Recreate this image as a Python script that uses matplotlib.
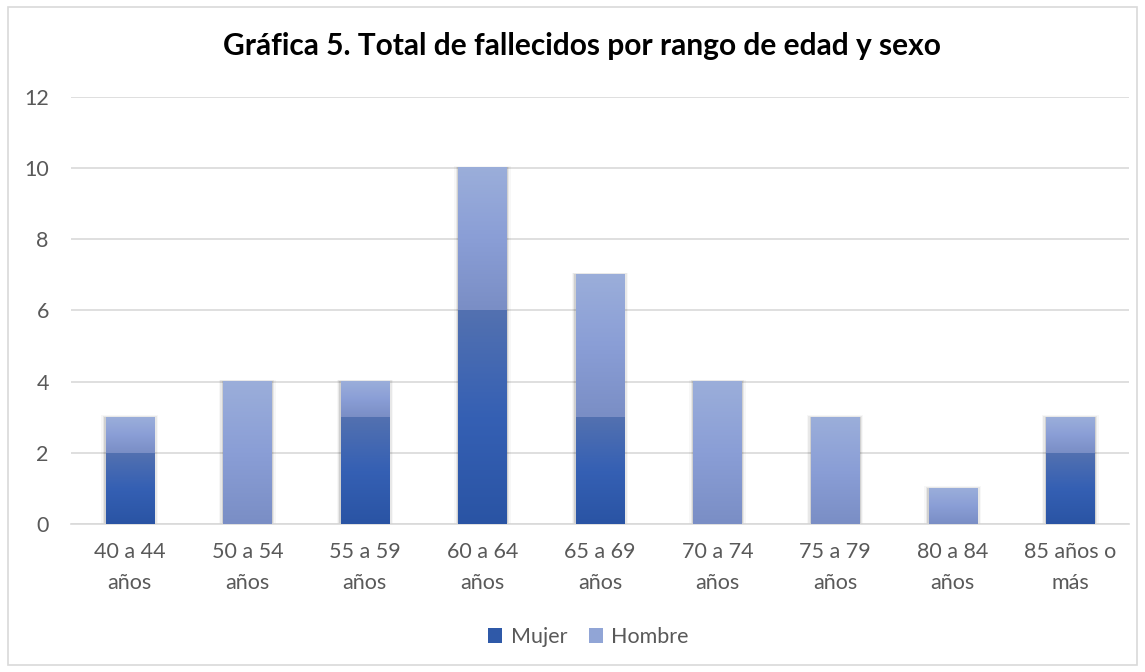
import numpy as np
import matplotlib
matplotlib.use('Agg')
import matplotlib.pyplot as plt
from matplotlib.colors import LinearSegmentedColormap
from matplotlib.patches import Patch, Rectangle

categorias = ['40 a 44\naños', '50 a 54\naños', '55 a 59\naños', '60 a 64\naños',
              '65 a 69\naños', '70 a 74\naños', '75 a 79\naños', '80 a 84\naños',
              '85 años o\nmás']
mujer = [2, 0, 3, 6, 3, 0, 0, 0, 2]
hombre = [1, 4, 1, 4, 4, 4, 3, 1, 1]

plt.rcParams['font.family'] = ['Lato', 'DejaVu Sans']

fig = plt.figure(figsize=(11.45, 6.72), dpi=100)
ax = fig.add_axes([0.062, 0.22, 0.924, 0.636])

# marco gris alrededor de la figura
fig.patches.append(Rectangle((0.007, 0.01), 0.986, 0.98, transform=fig.transFigure,
                             fill=False, edgecolor='#D9D9D9', lw=1.2))

cm_mujer = LinearSegmentedColormap.from_list('m', ['#2A54A4', '#3560B4', '#5371B0'])
cm_hombre = LinearSegmentedColormap.from_list('h', ['#7A8EC5', '#8A9ED6', '#9BAEDA'])
grad = np.linspace(0, 1, 256).reshape(-1, 1)

x = np.arange(len(categorias))
w = 0.41
b1 = ax.bar(x, mujer, w, color='none', zorder=3)
b2 = ax.bar(x, hombre, w, bottom=mujer, color='none', zorder=3)

for bars, cmap in ((b1, cm_mujer), (b2, cm_hombre)):
    for p in bars:
        h = p.get_height()
        if h <= 0:
            continue
        x0, y0 = p.get_x(), p.get_y()
        ax.imshow(grad, cmap=cmap, origin='lower', aspect='auto', zorder=3,
                  extent=[x0, x0 + p.get_width(), y0, y0 + h])

# sombra suave de las barras
tot = np.array(mujer) + np.array(hombre)
for i, t in enumerate(tot):
    for k, a in enumerate([0.10, 0.06, 0.03]):
        d = 0.012 * (k + 1)
        ax.add_patch(Rectangle((i - w / 2 - d, -0.02 * (k + 1)), w + 2 * d,
                               t + 0.04 * (k + 1), facecolor='#000000', alpha=a,
                               edgecolor='none', zorder=2))

ax.set_xlim(-0.5, len(categorias) - 0.5)
ax.set_ylim(0, 12)
ax.set_yticks(range(0, 13, 2))
ax.set_xticks(x)
ax.set_xticklabels(categorias, linespacing=1.65)
ax.yaxis.grid(True, color='#D9D9D9', lw=1.2, zorder=0)
ax.set_axisbelow(True)
for s in ['top', 'right', 'left']:
    ax.spines[s].set_visible(False)
ax.spines['bottom'].set_color('#D9D9D9')
ax.spines['bottom'].set_linewidth(1.2)
ax.tick_params(axis='both', length=0, labelsize=15.5, colors='#595959')
ax.tick_params(axis='y', pad=16)
ax.tick_params(axis='x', pad=13)

fig.text(0.508, 0.931, 'Gráfica 5. Total de fallecidos por rango de edad y sexo',
         ha='center', va='center', fontsize=21.5, fontweight='bold', color='#000000')

handles = [Patch(facecolor='#2F59A8', label='Mujer'),
           Patch(facecolor='#91A5D6', label='Hombre')]
fig.legend(handles=handles, loc='center', bbox_to_anchor=(0.514, 0.052), ncol=2,
           frameon=False, fontsize=15.5, labelcolor='#595959', handlelength=0.65,
           handleheight=0.65, handletextpad=0.4, columnspacing=1.0)

fig.savefig('out.png', dpi=100, facecolor='white')
